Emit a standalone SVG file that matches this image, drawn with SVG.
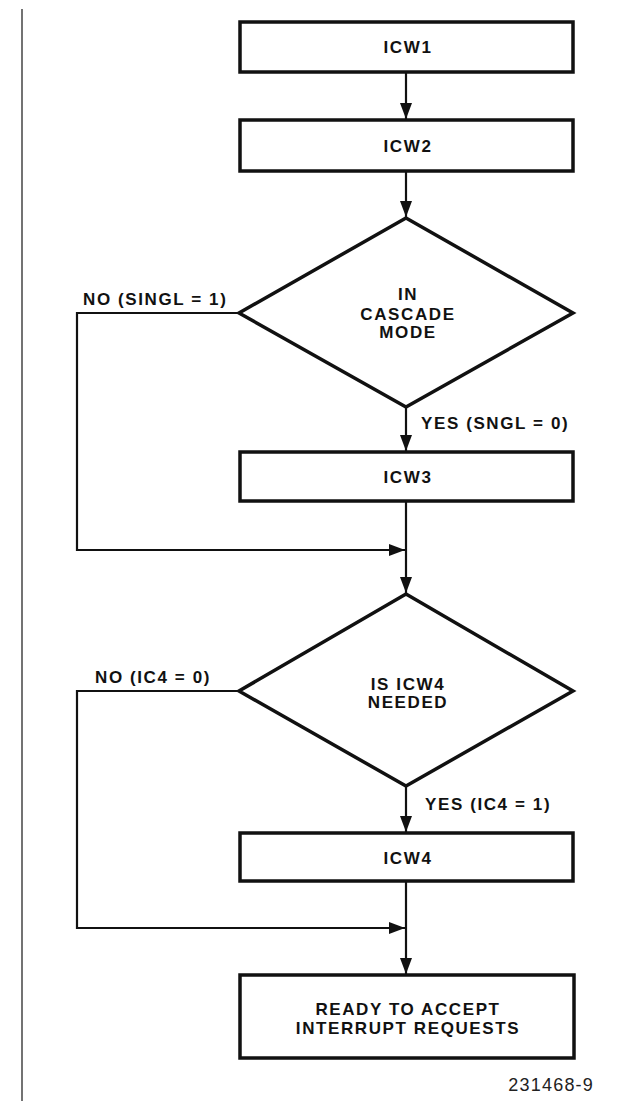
<svg xmlns="http://www.w3.org/2000/svg" width="619" height="1101" viewBox="0 0 619 1101">
  <style>
    .box { fill: #fff; stroke: #111; stroke-width: 3.5; }
    .dia { fill: #fff; stroke: #111; stroke-width: 3.5; stroke-linejoin: miter; }
    .t { font-family: "Liberation Sans", Arial, sans-serif; font-weight: bold; font-size: 17px; letter-spacing: 1.6px; fill: #111; }
    .c { text-anchor: middle; }
    .con { fill: none; stroke: #111; stroke-width: 2.2; }
    .num { font-family: "Liberation Sans", Arial, sans-serif; font-size: 18px; letter-spacing: 1.2px; fill: #222; text-anchor: end; }
  </style>
  <defs>
    <marker id="arr" markerUnits="userSpaceOnUse" markerWidth="17" markerHeight="12" refX="16" refY="6" orient="auto">
      <path d="M0,0 L16,6 L0,12 z" fill="#111"/>
    </marker>
  </defs>
  <rect width="619" height="1101" fill="#fff"/>
  <line x1="22" y1="9" x2="22" y2="1101" stroke="#444" stroke-width="1.5"/>

  <g id="connectors">
    <path class="con" d="M406,72 V119" marker-end="url(#arr)"/>
    <path class="con" d="M406,171 V217" marker-end="url(#arr)"/>
    <path class="con" d="M406,407 V451" marker-end="url(#arr)"/>
    <path class="con" d="M406,501 V593" marker-end="url(#arr)"/>
    <path class="con" d="M406,786 V832" marker-end="url(#arr)"/>
    <path class="con" d="M406,881 V974" marker-end="url(#arr)"/>
    <path class="con" d="M239,313 H77 V550 H405" marker-end="url(#arr)"/>
    <path class="con" d="M239,691 H77 V928 H405" marker-end="url(#arr)"/>
    <text class="t" x="83" y="305">NO (SINGL = 1)</text>
    <text class="t" x="421" y="429">YES (SNGL = 0)</text>
    <text class="t" x="95" y="683">NO (IC4 = 0)</text>
    <text class="t" x="425" y="810">YES (IC4 = 1)</text>
  </g>

  <g id="icw1">
    <rect class="box" x="240" y="22" width="333" height="50"/>
    <text class="t c" x="408" y="53">ICW1</text>
  </g>
  <g id="icw2">
    <rect class="box" x="240" y="120" width="333" height="51"/>
    <text class="t c" x="408" y="152">ICW2</text>
  </g>
  <g id="cascade">
    <polygon class="dia" points="406,218 573,313 406,407 239,313"/>
    <text class="t c" x="408" y="300">IN</text>
    <text class="t c" x="408" y="320">CASCADE</text>
    <text class="t c" x="408" y="338">MODE</text>
  </g>
  <g id="icw3">
    <rect class="box" x="240" y="452" width="333" height="49"/>
    <text class="t c" x="408" y="483">ICW3</text>
  </g>
  <g id="needed">
    <polygon class="dia" points="406,594 573,691 406,786 239,691"/>
    <text class="t c" x="408" y="690">IS ICW4</text>
    <text class="t c" x="408" y="708">NEEDED</text>
  </g>
  <g id="icw4">
    <rect class="box" x="240" y="833" width="333" height="48"/>
    <text class="t c" x="408" y="864">ICW4</text>
  </g>
  <g id="ready">
    <rect class="box" x="240" y="975" width="334" height="83"/>
    <text class="t c" x="408" y="1015">READY TO ACCEPT</text>
    <text class="t c" x="408" y="1034">INTERRUPT REQUESTS</text>
  </g>
  <text class="num" x="594" y="1091">231468-9</text>
</svg>
